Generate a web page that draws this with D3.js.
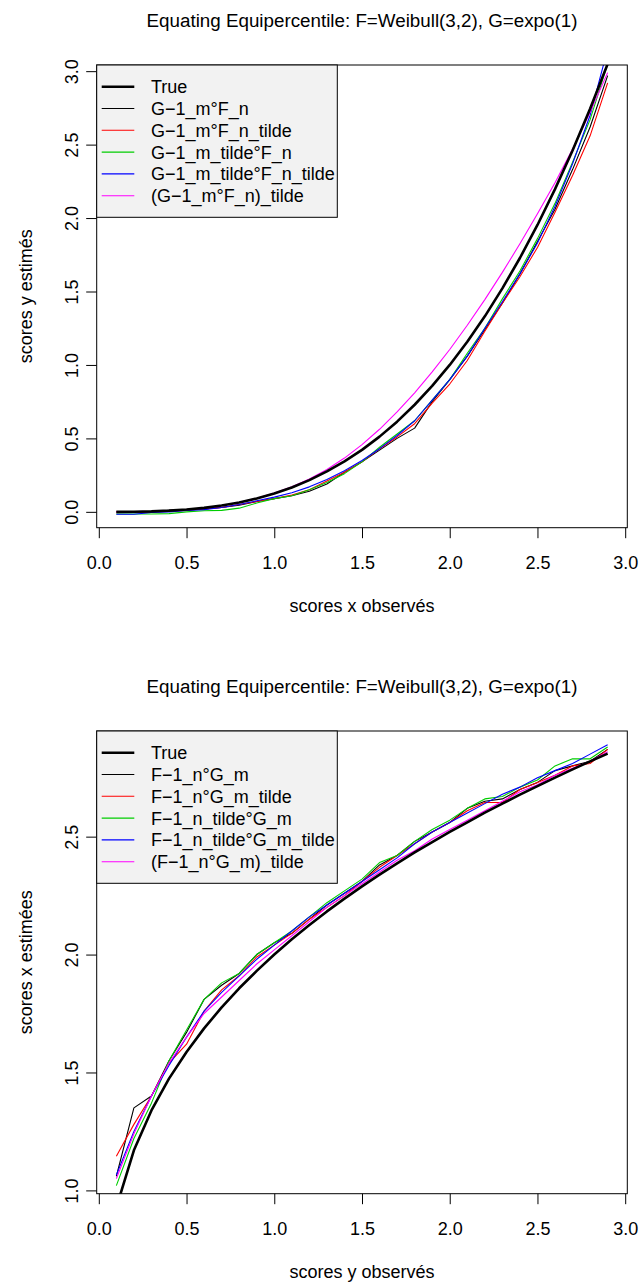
<!DOCTYPE html>
<html>
<head>
<meta charset="utf-8">
<script src="https://cdn.jsdelivr.net/npm/d3@7"></script>
<style>
  html, body { margin: 0; padding: 0; background: #fff; }
  svg { display: block; }
  text { font-family: "Liberation Sans", Arial, Helvetica, sans-serif; fill: #000; }
</style>
</head>
<body>
<svg id="chart" width="640" height="1284"></svg>
<script>
// ---------------- DATA ----------------
const xs = [0.1,0.2,0.3,0.4,0.5,0.6,0.7,0.8,0.9,1.0,1.1,1.2,1.3,1.4,1.5,1.6,1.7,1.8,1.9,2.0,2.1,2.2,2.3,2.4,2.5,2.6,2.7,2.8,2.9];

// Panel 1 : y estimated from observed x
const title1 = "Equating Equipercentile: F=Weibull(3,2), G=expo(1)";
const xLabel1 = "scores x observés";
const yLabel1 = "scores y estimés";
const legend1 = ["True", "G\u22121_m°F_n", "G\u22121_m°F_n_tilde", "G\u22121_m_tilde°F_n", "G\u22121_m_tilde°F_n_tilde", "(G\u22121_m°F_n)_tilde"];
const true1       = [0.000,0.001,0.003,0.008,0.016,0.027,0.043,0.064,0.091,0.125,0.166,0.216,0.275,0.343,0.422,0.512,0.614,0.729,0.857,1.000,1.158,1.331,1.521,1.728,1.953,2.197,2.460,2.744,3.049];
const gmFn        = [0.000,0.000,0.000,0.010,0.015,0.020,0.030,0.045,0.070,0.090,0.110,0.140,0.190,0.270,0.340,0.420,0.500,0.570,0.750,0.900,1.060,1.240,1.420,1.620,1.840,2.060,2.330,2.620,2.970];
const gmFnTilde   = [0.000,0.000,0.000,0.005,0.010,0.020,0.030,0.050,0.070,0.090,0.115,0.150,0.210,0.270,0.340,0.430,0.510,0.600,0.740,0.870,1.030,1.230,1.420,1.600,1.800,2.040,2.290,2.560,2.920];
const gmTildeFn   = [-0.015,-0.015,-0.015,-0.012,0.000,0.007,0.010,0.025,0.060,0.090,0.110,0.150,0.200,0.260,0.340,0.440,0.530,0.620,0.760,0.900,1.080,1.250,1.450,1.640,1.860,2.100,2.380,2.670,3.050];
const gmTildeFnTilde = [-0.016,-0.016,-0.005,0.000,0.010,0.015,0.030,0.050,0.075,0.100,0.130,0.170,0.220,0.280,0.350,0.430,0.520,0.620,0.760,0.900,1.060,1.250,1.430,1.620,1.830,2.080,2.370,2.700,3.150];
const gmFnSmooth  = [0.000,0.001,0.003,0.008,0.015,0.026,0.042,0.064,0.093,0.128,0.171,0.224,0.288,0.366,0.458,0.562,0.680,0.810,0.953,1.105,1.270,1.445,1.630,1.825,2.030,2.240,2.470,2.720,2.990];

// Panel 2 : x estimated from observed y
const title2 = "Equating Equipercentile: F=Weibull(3,2), G=expo(1)";
const xLabel2 = "scores y observés";
const yLabel2 = "scores x estimées";
const legend2 = ["True", "F\u22121_n°G_m", "F\u22121_n°G_m_tilde", "F\u22121_n_tilde°G_m", "F\u22121_n_tilde°G_m_tilde", "(F\u22121_n°G_m)_tilde"];
const true2       = [0.928,1.170,1.339,1.474,1.587,1.687,1.776,1.857,1.931,2.000,2.065,2.125,2.183,2.237,2.289,2.339,2.387,2.433,2.477,2.520,2.561,2.602,2.640,2.678,2.714,2.750,2.785,2.819,2.852];
const fnGm        = [1.060,1.350,1.400,1.550,1.670,1.810,1.870,1.920,2.000,2.050,2.090,2.150,2.210,2.260,2.310,2.380,2.420,2.480,2.520,2.560,2.620,2.650,2.660,2.700,2.730,2.780,2.800,2.820,2.870];
const fnGmTilde   = [1.145,1.280,1.400,1.540,1.620,1.760,1.850,1.910,1.990,2.040,2.090,2.150,2.200,2.250,2.310,2.370,2.420,2.470,2.520,2.560,2.610,2.645,2.645,2.700,2.730,2.760,2.800,2.810,2.870];
const fnTildeGm   = [1.020,1.220,1.370,1.550,1.680,1.810,1.880,1.920,2.000,2.050,2.100,2.160,2.220,2.270,2.320,2.390,2.420,2.480,2.530,2.570,2.620,2.660,2.670,2.710,2.740,2.800,2.830,2.830,2.880];
const fnTildeGmTilde = [1.065,1.250,1.400,1.530,1.650,1.760,1.840,1.910,1.980,2.040,2.100,2.160,2.210,2.260,2.310,2.360,2.410,2.470,2.520,2.560,2.600,2.640,2.680,2.710,2.750,2.780,2.810,2.850,2.890];
const fnGmSmooth  = [1.050,1.240,1.400,1.540,1.650,1.750,1.820,1.890,1.960,2.020,2.080,2.140,2.200,2.250,2.300,2.350,2.400,2.440,2.490,2.530,2.570,2.610,2.650,2.690,2.720,2.760,2.790,2.820,2.860];

const xTicks = [0, 0.5, 1.0, 1.5, 2.0, 2.5, 3.0];
const yTicks1 = [0, 0.5, 1.0, 1.5, 2.0, 2.5, 3.0];
const yTicks2 = [1.0, 1.5, 2.0, 2.5];
const seriesColors = ["#000000", "#FF0000", "#00CD00", "#0000FF", "#FF00FF"];

// ---------------- DRAW ----------------
const svg = d3.select("#chart");
const box = { left: 96.7, right: 627.3, top: 65, bottom: 527.7 };
const FS = 18;

function panel(offsetY, idx, title, xLab, yLab, legendLabels, trueVals, estSeries, yDomain, yTicks) {
  const g = svg.append("g").attr("transform", `translate(0,${offsetY})`);
  const x = d3.scaleLinear().domain([-0.012, 3.012]).range([box.left, box.right]);
  const y = d3.scaleLinear().domain(yDomain).range([box.bottom, box.top]);

  const clipId = "clip" + idx;
  g.append("clipPath").attr("id", clipId).append("rect")
    .attr("x", box.left).attr("y", box.top)
    .attr("width", box.right - box.left).attr("height", box.bottom - box.top);

  const line = d3.line().x((d, i) => x(xs[i])).y(d => y(d));
  const plot = g.append("g").attr("clip-path", `url(#${clipId})`);

  estSeries.forEach((vals, k) => {
    plot.append("path").datum(vals)
      .attr("d", line).attr("fill", "none")
      .attr("stroke", seriesColors[k]).attr("stroke-width", 1.1)
      .attr("stroke-linejoin", "round");
  });
  plot.append("path").datum(trueVals)
    .attr("d", line).attr("fill", "none")
    .attr("stroke", "#000").attr("stroke-width", 2.6)
    .attr("stroke-linejoin", "round");

  // axes
  const xAxis = g.append("g").attr("transform", `translate(0,${box.bottom})`)
    .call(d3.axisBottom(x).tickValues(xTicks).tickFormat(d3.format(".1f")).tickSize(10.5).tickSizeOuter(0));
  xAxis.select(".domain").remove();
  xAxis.selectAll("line").attr("stroke", "#000");
  xAxis.selectAll("text").attr("y", 41.3).attr("dy", 0)
    .style("font-size", FS + "px").style("font-family", '"Liberation Sans", Arial, sans-serif');

  const yAxis = g.append("g").attr("transform", `translate(${box.left},0)`)
    .call(d3.axisLeft(y).tickValues(yTicks).tickFormat(d3.format(".1f")).tickSize(10.5).tickSizeOuter(0));
  yAxis.select(".domain").remove();
  yAxis.selectAll("line").attr("stroke", "#000");
  yAxis.selectAll("text")
    .attr("x", 0).attr("y", 0).attr("dy", 0)
    .attr("transform", "translate(-19,0) rotate(-90)")
    .attr("text-anchor", "middle")
    .style("font-size", FS + "px").style("font-family", '"Liberation Sans", Arial, sans-serif');

  // box
  g.append("rect").attr("x", box.left).attr("y", box.top)
    .attr("width", box.right - box.left).attr("height", box.bottom - box.top)
    .attr("fill", "none").attr("stroke", "#000").attr("stroke-width", 1);

  // titles
  const cx = (box.left + box.right) / 2;
  g.append("text").attr("x", cx).attr("y", 26.7).attr("text-anchor", "middle")
    .style("font-size", "18.8px").text(title);
  g.append("text").attr("x", cx).attr("y", 612).attr("text-anchor", "middle")
    .style("font-size", FS + "px").text(xLab);
  g.append("text").attr("transform", `translate(32,${(box.top + box.bottom) / 2}) rotate(-90)`)
    .attr("text-anchor", "middle").style("font-size", FS + "px").text(yLab);

  // legend
  const lg = g.append("g");
  lg.append("rect").attr("x", box.left).attr("y", box.top)
    .attr("width", 337.3 - box.left).attr("height", 217.3 - box.top)
    .attr("fill", "#F2F2F2").attr("stroke", "#000").attr("stroke-width", 1);
  const legColors = ["#000000"].concat(seriesColors);
  legendLabels.forEach((lab, i) => {
    const cy = box.top + 21.7 + i * 21.8;
    lg.append("line").attr("x1", 101.7).attr("x2", 134.3).attr("y1", cy).attr("y2", cy)
      .attr("stroke", legColors[i]).attr("stroke-width", i === 0 ? 2.6 : 1.1);
    lg.append("text").attr("x", 151).attr("y", cy + 6.5)
      .style("font-size", FS + "px").text(lab);
  });
}

panel(0, 1, title1, xLabel1, yLabel1, legend1, true1,
  [gmFn, gmFnTilde, gmTildeFn, gmTildeFnTilde, gmFnSmooth], [-0.108, 3.042], yTicks1);
panel(666, 2, title2, xLabel2, yLabel2, legend2, true2,
  [fnGm, fnGmTilde, fnTildeGm, fnTildeGmTilde, fnGmSmooth], [0.986, 2.948], yTicks2);
</script>
</body>
</html>
